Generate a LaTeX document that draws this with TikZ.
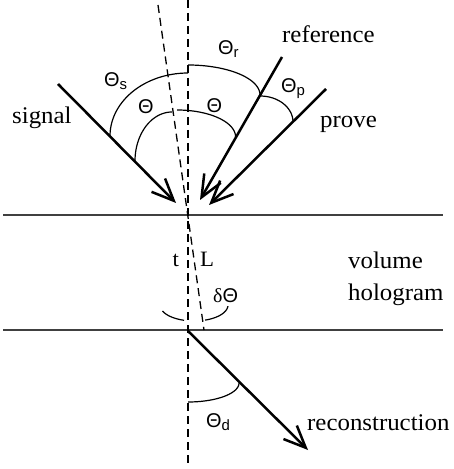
\documentclass[tikz,border=0pt]{standalone}
\usepackage{fontspec}
\setmainfont{Liberation Serif}[FakeStretch=1.04]
\newfontfamily\thsans{Liberation Sans}
\newfontfamily\thserif{Liberation Serif}
\usetikzlibrary{arrows.meta}
\newcommand\sbs[1]{\raisebox{-3bp}{\fontsize{15}{15}\selectfont #1}}
\begin{document}
\begin{tikzpicture}[x=1bp,y=-1bp,
  beam/.style={line width=2.5bp, -{Straight Barb[length=22bp,width=19bp]}},
  plate/.style={line width=1.6bp, draw=black!75},
  axis/.style={line width=1.3bp, dash pattern=on 8bp off 5bp},
  anglearc/.style={line width=1.2bp},
  lbl/.style={font=\fontsize{24}{24}\selectfont, inner sep=0pt, anchor=base west},
  slbl/.style={font=\fontsize{22}{22}\selectfont, inner sep=0pt, anchor=base west},
  glbl/.style={font=\thsans\fontsize{20}{20}\selectfont, inner sep=0pt, anchor=base west},
]
\useasboundingbox (0,0) rectangle (454,469);

% coordinates
\coordinate (vtop) at (188,0);
\coordinate (vbot) at (188,465);
\coordinate (ltop) at (158,5);
\coordinate (lbot) at (204,330);
\coordinate (p1l) at (3,215);
\coordinate (p1r) at (443,215);
\coordinate (p2l) at (3,330);
\coordinate (p2r) at (443,330);
\coordinate (sS) at (58,84);
\coordinate (sT) at (176,203);
\coordinate (rS) at (282,57);
\coordinate (rT) at (200,200);
\coordinate (pS) at (326,89);
\coordinate (pT) at (209,205);
\coordinate (dS) at (188,331);
\coordinate (dT) at (308,450);

% hologram plates
\draw[plate] (p1l) -- (p1r);
\draw[plate] (p2l) -- (p2r);

% axes
\draw[axis] (vtop) -- (vbot);
\draw[axis] (ltop) -- (lbot);

% beams
\draw[beam] (sS) -- (sT);
\draw[beam] (rS) -- (rT);
\draw[beam] (pS) -- (pT);
\draw[beam] (dS) -- (dT);

% angle arcs
\draw[anglearc] plot[domain=90:180, samples=40, smooth] ({188+78*cos(\x)},{136-63*sin(\x)});
\draw[anglearc] plot[domain=0:90, samples=40, smooth] ({188+72*cos(\x)},{95-30*sin(\x)});
\draw[anglearc] plot[domain=0:90, samples=40, smooth] ({260+33*cos(\x)},{122-26*sin(\x)});
\draw[anglearc] plot[domain=90:180, samples=40, smooth] ({172+37*cos(\x)},{161-49*sin(\x)});
\draw[anglearc] plot[domain=0:90, samples=40, smooth] ({177+58.6*cos(\x)},{137-27*sin(\x)});
\draw[anglearc] plot[domain=0:90, samples=40, smooth] ({188+51*cos(\x)},{383+19*sin(\x)});
\draw[anglearc] plot[domain=107:158, samples=30, smooth] ({194+34*cos(\x)},{305+16*sin(\x)});
\draw[anglearc] plot[domain=4:71, samples=30, smooth] ({194+34*cos(\x)},{305+16*sin(\x)});

% angle labels
\node[glbl] (ths) at (104,87) {Θ\sbs{s}};
\node[glbl] (thr) at (218,55) {Θ\sbs{r}};
\node[glbl] (thp) at (281,93) {Θ\sbs{p}};
\node[glbl] (thl) at (138,114) {Θ};
\node[glbl] (thrr) at (206.5,113) {Θ};
\node[glbl] (thd) at (206,427) {Θ\sbs{d}};
\node[glbl] (dth) at (213,302) {{\thserif δ}Θ};

% text labels
\node[lbl] (sig) at (12,124) {signal};
\node[lbl] (ref) at (282,43) {reference};
\node[lbl] (prv) at (320,128) {prove};
\node[slbl] (tl) at (172.5,266) {t};
\node[slbl] (Ll) at (200,266) {L};
\node[lbl] (vol) at (348,268) {volume};
\node[lbl] (holo) at (348,300) {hologram};
\node[lbl] (rec) at (307,430) {reconstruction};
\end{tikzpicture}
\end{document}
